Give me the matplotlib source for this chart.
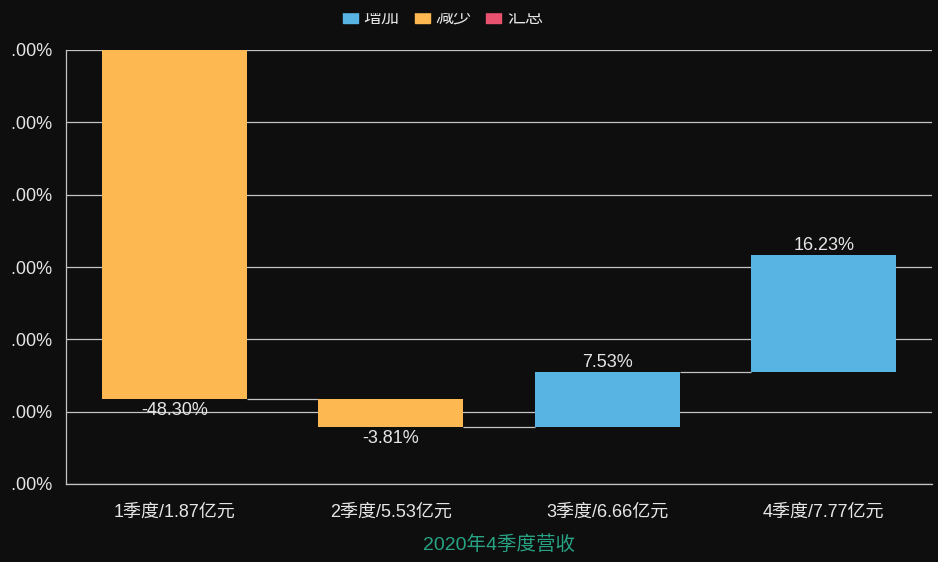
import numpy as np
import matplotlib
matplotlib.use('Agg')
import matplotlib.pyplot as plt
from matplotlib.patches import Patch, Rectangle

plt.rcParams['font.family'] = ['Liberation Sans', 'Noto Sans CJK SC', 'DejaVu Sans']

# data
categories = ['1季度/1.87亿元', '2季度/5.53亿元', '3季度/6.66亿元', '4季度/7.77亿元']
changes = [-48.30, -3.81, 7.53, 16.23]
yticks = [0, -10, -20, -30, -40, -50, -60]
legend_names = ['增加', '减少', '汇总']
xlabel = '2020年4季度营收'

bg = '#0e0e0e'
c_up = '#58b5e3'
c_down = '#fdb852'
c_total = '#e9526f'
grid_c = '#c4c4c4'
text_c = '#e6e6e6'

# waterfall bases
ends = np.cumsum(changes)
starts = ends - np.array(changes)
bottoms = np.minimum(starts, ends)
heights = np.abs(changes)
colors = [c_up if v > 0 else c_down for v in changes]
x = np.arange(len(categories))
w = 0.67

W, H = 938, 562
fig = plt.figure(figsize=(W / 100, H / 100), dpi=100, facecolor=bg)
ax = fig.add_axes([66 / W, 78 / H, 866 / W, 434 / H])
ax.set_facecolor(bg)

ax.bar(x, heights, w, bottom=bottoms, color=colors, zorder=3)

# connectors between bars
ax.hlines(ends[:-1], x[:-1] + w / 2, x[1:] - w / 2, color=grid_c, lw=0.9, zorder=2)

# value labels
for i, v in enumerate(changes):
    if v < 0:
        ax.annotate('%.2f%%' % v, (x[i], bottoms[i]), xytext=(0, -8), textcoords='offset points',
                    ha='center', va='center', color=text_c, fontsize=13, zorder=4)
    else:
        ax.annotate('%.2f%%' % v, (x[i], bottoms[i] + heights[i]), xytext=(0, 7), textcoords='offset points',
                    ha='center', va='center', color=text_c, fontsize=13, zorder=4)

ax.set_xlim(-0.5, len(categories) - 0.5)
ax.set_ylim(min(yticks), max(yticks))
ax.set_yticks(yticks)
ax.set_yticklabels(['%.2f%%' % t for t in yticks])
ax.set_xticks(x)
ax.set_xticklabels(categories)
ax.tick_params(axis='both', length=0, colors=text_c, labelsize=13)
ax.tick_params(axis='y', pad=10)
ax.tick_params(axis='x', pad=14)
ax.grid(axis='y', color=grid_c, lw=0.9, zorder=1)
for s in ['top', 'right']:
    ax.spines[s].set_visible(False)
for s in ['left', 'bottom']:
    ax.spines[s].set_color(grid_c)
    ax.spines[s].set_linewidth(0.9)
ax.set_xlabel(xlabel, color='#27a384', fontsize=14, labelpad=11)

handles = [Patch(color=c) for c in [c_up, c_down, c_total]]
leg = fig.legend(handles, legend_names, loc='center', bbox_to_anchor=(443 / W, 1 - 18 / H), ncol=3,
                 frameon=False, fontsize=13, handlelength=0.83, handleheight=0.78,
                 handletextpad=0.33, columnspacing=0.83, labelcolor=text_c)

# the original chart is clipped at its left and top edge
fig.add_artist(Rectangle((0, 0), 11 / W, 1, transform=fig.transFigure, color=bg, zorder=10))
fig.add_artist(Rectangle((0, 1 - 12 / H), 1, 12 / H, transform=fig.transFigure, color=bg, zorder=10))

plt.savefig('out.png', dpi=100, facecolor=bg)
plt.close(fig)
